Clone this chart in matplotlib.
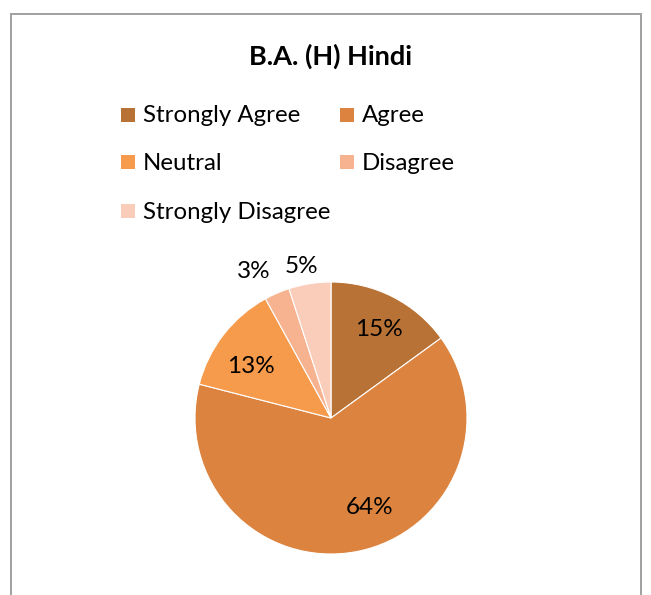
import numpy as np
import matplotlib
matplotlib.use("Agg")
import matplotlib.pyplot as plt
from matplotlib.patches import Rectangle
from matplotlib.lines import Line2D

categories = ["Strongly Agree", "Agree", "Neutral", "Disagree", "Strongly Disagree"]
values = [15, 64, 13, 3, 5]
colors = ["#B97235", "#DC843F", "#F69A4B", "#F7B38F", "#FACDBA"]

# label placement per slice (fraction of radius, angle shift in degrees)
label_radius = [0.75, 0.70, 0.71, 1.23, 1.15]
label_shift = [-1, 13, 4, 4, 2]

W, H = 651, 595
fig = plt.figure(figsize=(W / 100, H / 100), dpi=100)
plt.rcParams["font.family"] = ["Lato", "DejaVu Sans"]

def px(x, y):
    return x / W, 1 - y / H

# chart frame (bottom edge is cut off)
for (x0, y0), (x1, y1) in [((11, 605), (11, 14)), ((11, 14), (641, 14)), ((641, 14), (641, 605))]:
    a, b = px(x0, y0)
    c, d = px(x1, y1)
    fig.add_artist(Line2D([a, c], [b, d], color="#A0A0A0", lw=1.4, transform=fig.transFigure))

tx, ty = px(331, 56)
fig.text(tx, ty, "B.A. (H) Hindi", ha="center", va="center", fontsize=19.5, fontweight="bold")

# legend, row-major in two columns
legend_pos = [(121, 116), (340, 116), (121, 163), (340, 163), (121, 212)]
for (lx, ly), name, col in zip(legend_pos, categories, colors):
    rx, ry = px(lx, ly + 6)
    fig.add_artist(Rectangle((rx, ry), 14 / W, 14 / H, facecolor=col, edgecolor="none",
                             transform=fig.transFigure))
    tx, ty = px(lx + 22, ly)
    fig.text(tx, ty, name, ha="left", va="center", fontsize=17.3)

# pie
cx, cy, r = 331, 418, 136
ax = fig.add_axes([(cx - r) / W, (H - cy - r) / H, 2 * r / W, 2 * r / H])
wedges, _ = ax.pie(values, colors=colors, startangle=90, counterclock=False,
                   radius=1.0, wedgeprops=dict(edgecolor="white", linewidth=0.8))
ax.set_xlim(-1, 1)
ax.set_ylim(-1, 1)
ax.set_aspect("equal")
ax.axis("off")

total = sum(values)
for w, v, lr, sh in zip(wedges, values, label_radius, label_shift):
    mid = np.deg2rad((w.theta1 + w.theta2) / 2 + sh)
    ax.text(lr * np.cos(mid), lr * np.sin(mid) - 0.015, f"{round(100 * v / total)}%",
            ha="center", va="center", fontsize=17.5, clip_on=False)

fig.savefig("out.png", dpi=100)
